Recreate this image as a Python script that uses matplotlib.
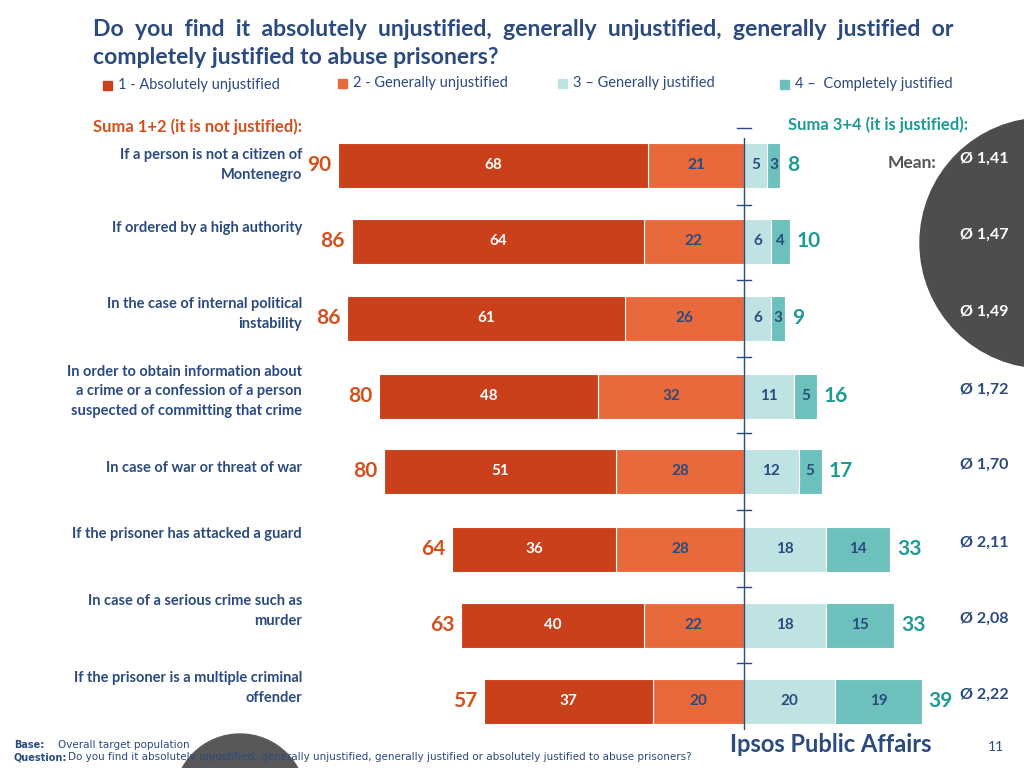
import matplotlib
matplotlib.use("Agg")
import matplotlib.pyplot as plt
import matplotlib.transforms as mt
from matplotlib.patches import Ellipse

plt.rcParams['font.family'] = ['Lato', 'DejaVu Sans']

cats = ["If a person is not a citizen of\nMontenegro", "If ordered by a high authority",
        "In the case of internal political\ninstability",
        "In order to obtain information about\na crime or a confession of a person\nsuspected of committing that crime",
        "In case of war or threat of war", "If the prisoner has attacked a guard",
        "In case of a serious crime such as\nmurder", "If the prisoner is a multiple criminal\noffender"]
v1 = [68, 64, 61, 48, 51, 36, 40, 37]
v2 = [21, 22, 26, 32, 28, 28, 22, 20]
v3 = [5, 6, 6, 11, 12, 18, 18, 20]
v4 = [3, 4, 3, 5, 5, 14, 15, 19]
neg = [90, 86, 86, 80, 80, 64, 63, 57]
pos = [8, 10, 9, 16, 17, 33, 33, 39]
means = ["Ø 1,41", "Ø 1,47", "Ø 1,49", "Ø 1,72", "Ø 1,70", "Ø 2,11", "Ø 2,08", "Ø 2,22"]
ypix = [165, 241, 318, 396, 471, 549, 625, 701]
label_ypix = [165, 228, 314, 391, 468, 534, 611, 688]

C1, C2, C3, C4 = "#C9401A", "#E8693C", "#BFE3E2", "#6CC1BD"
BLUE, ORG, TEAL = "#2B4A7E", "#D4501C", "#1F9A94"

fig = plt.figure(figsize=(10.24, 7.68), dpi=100)
def circ(cx, cy, r, col):
    fig.patches.append(Ellipse((cx/1024, 1-cy/768), 2*r/1024, 2*r/768, transform=fig.transFigure, color=col, zorder=0))
circ(1045, 243, 125, "#4D4D4F")
circ(240, 800, 66, "#58585A")

sc = 4.56
ax = fig.add_axes([300/1024, 38/768, 660/1024, 592/768])
ax.set_zorder(3)
ax.patch.set_visible(False)
ax.set_xlim(-444/sc, 216/sc)
ax.set_ylim(730, 138)
ax.axis('off')
h = 45
for i, y in enumerate(ypix):
    a, b, c, d = v1[i], v2[i], v3[i], v4[i]
    ax.barh(y, -b, height=h, color=C2, edgecolor='white', lw=0.8)
    ax.barh(y, -a, left=-b, height=h, color=C1, edgecolor='white', lw=0.8)
    ax.barh(y, c, height=h, color=C3, edgecolor='white', lw=0.8)
    ax.barh(y, d, left=c, height=h, color=C4, edgecolor='white', lw=0.8)
    ax.text(-b - a/2, y, str(a), color='white', ha='center', va='center', fontsize=11, fontweight='bold')
    ax.text(-b/2, y, str(b), color=BLUE, ha='center', va='center', fontsize=11, fontweight='bold')
    ax.text(c/2, y, str(c), color=BLUE, ha='center', va='center', fontsize=11, fontweight='bold')
    ax.text(c + d/2, y, str(d), color=BLUE, ha='center', va='center', fontsize=11, fontweight='bold')
    ax.text(-a - b - 1.5, y, str(neg[i]), color=ORG, ha='right', va='center', fontsize=15, fontweight='bold')
    ax.text(c + d + 1.5, y, str(pos[i]), color=TEAL, ha='left', va='center', fontsize=15, fontweight='bold')
ax.axvline(0, color=BLUE, lw=1)
for t in [128, 205, 280, 357, 433, 510, 587, 663]:
    ax.plot([-1.5, 1.5], [t, t], color=BLUE, lw=1, clip_on=False)

tr = mt.blended_transform_factory(fig.transFigure, ax.transData)
for i, cat in enumerate(cats):
    ax.text(302/1024, label_ypix[i], cat, transform=tr, ha='right', va='center', color=BLUE,
            fontsize=10.5, fontweight='bold', linespacing=1.5)
    col = 'white' if i < 3 else BLUE
    ax.text(960/1024, ypix[i] - 6, means[i], transform=tr, ha='left', va='center', color=col,
            fontsize=11.5, fontweight='bold')

fig.text(93/1024, 1-30/768, "Do  you  find  it  absolutely  unjustified,  generally  unjustified,  generally  justified  or",
         color=BLUE, fontsize=16.6, fontweight='bold', va='center')
fig.text(93/1024, 1-58/768, "completely justified to abuse prisoners?", color=BLUE, fontsize=16.6, fontweight='bold', va='center')
leg = [("1 - Absolutely unjustified", C1, 103, 85), ("2 - Generally unjustified", C2, 338, 83),
       ("3 – Generally justified", C3, 558, 83), ("4 –  Completely justified", C4, 780, 84)]
for txt, col, x, y in leg:
    fig.patches.append(plt.Rectangle((x/1024, 1-(y+5)/768), 9/1024, 9/768, transform=fig.transFigure, color=col))
    fig.text((x+15)/1024, 1-y/768, txt, color=BLUE, fontsize=10.5, va='center')
fig.text(93/1024, 1-127/768, "Suma 1+2 (it is not justified):", color=ORG, fontsize=12, fontweight='bold', va='center')
fig.text(788/1024, 1-125/768, "Suma 3+4 (it is justified):", color=TEAL, fontsize=12, fontweight='bold', va='center', zorder=5)
fig.text(888/1024, 1-163/768, "Mean:", color="#555555", fontsize=12.5, fontweight='bold', va='center', zorder=5)
fig.text(730/1024, 1-745/768, "Ipsos Public Affairs", color=BLUE, fontsize=17, fontweight='bold', va='center')
fig.text(988/1024, 1-747/768, "11", color=BLUE, fontsize=10, va='center')
fig.text(14/1024, 1-745/768, "Base:", color=BLUE, fontsize=7, fontweight='bold', va='center', family='DejaVu Sans')
fig.text(58/1024, 1-745/768, "Overall target population", color=BLUE, fontsize=7.5, va='center', family='DejaVu Sans', zorder=5)
fig.text(14/1024, 1-757/768, "Question:", color=BLUE, fontsize=7, fontweight='bold', va='center', family='DejaVu Sans')
fig.text(68/1024, 1-757/768, "Do you find it absolutely unjustified, generally unjustified, generally justified or absolutely justified to abuse prisoners?",
         color=BLUE, fontsize=7.5, va='center', family='DejaVu Sans', zorder=5)
fig.savefig("out.png", dpi=100)
